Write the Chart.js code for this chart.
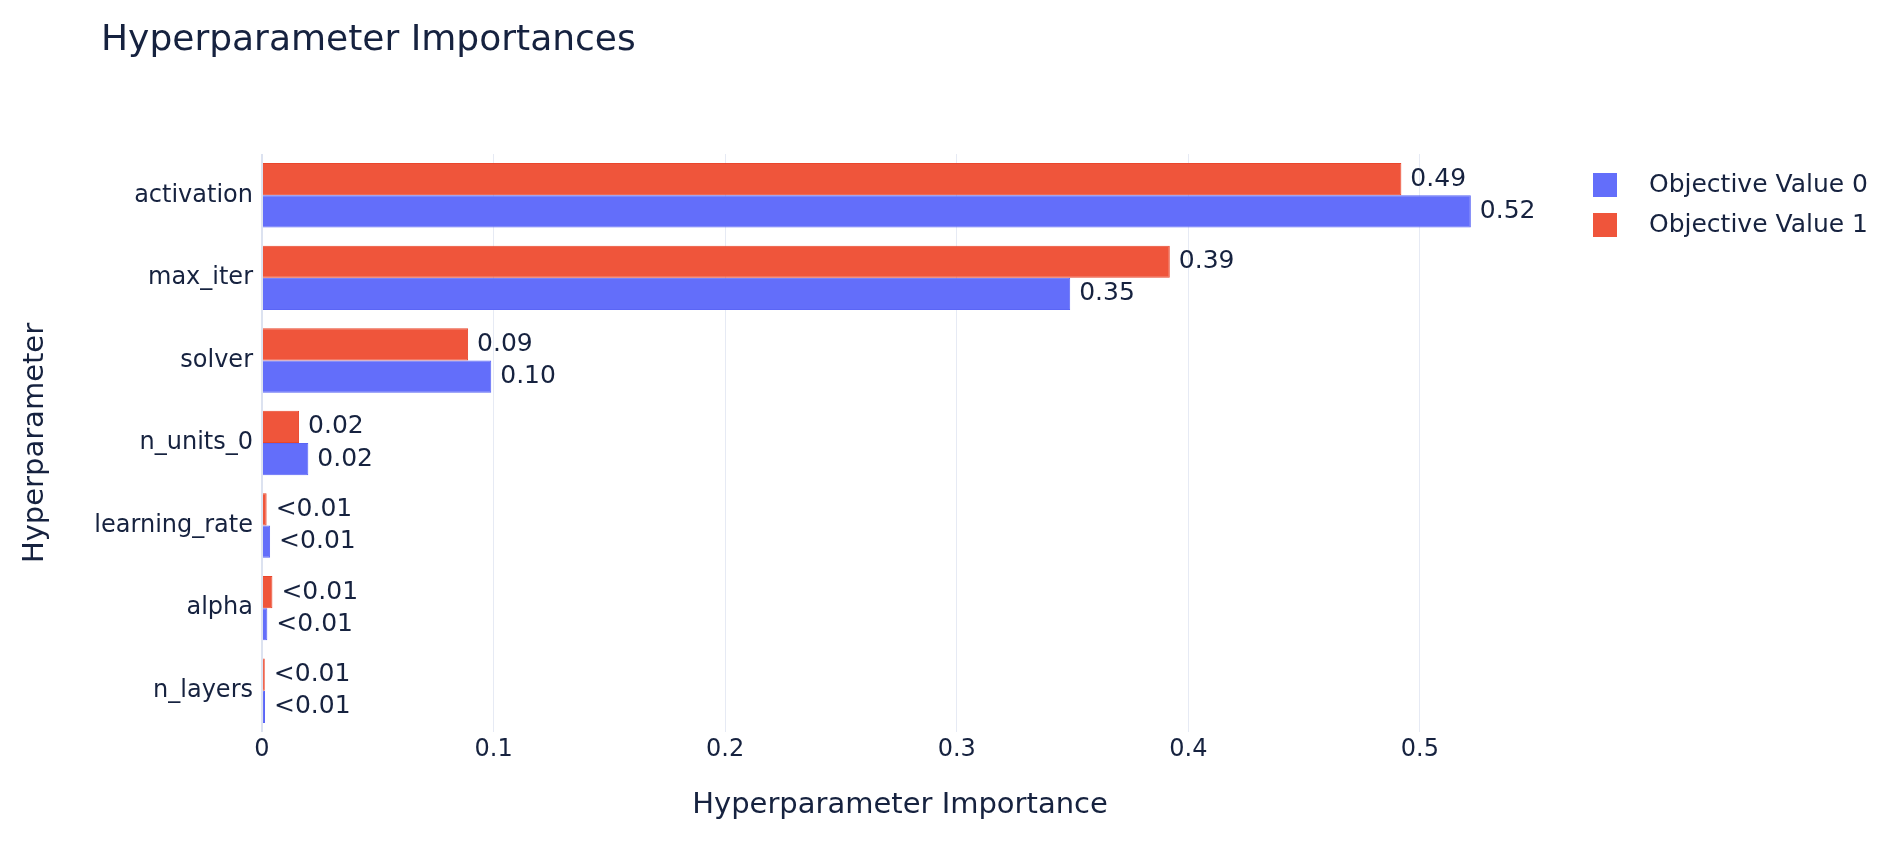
<!DOCTYPE html>
<html>
<head>
<meta charset="utf-8">
<title>Hyperparameter Importances</title>
<script src="https://cdn.jsdelivr.net/npm/chart.js@4"></script>
<style>
  body { margin: 0; background: #fff; }
  canvas { display: block; }
</style>
</head>
<body>
<canvas id="myChart" width="1892" height="843"></canvas>
<script>
// hyperparameters, top to bottom
var hyperparams = ['activation', 'max_iter', 'solver', 'n_units_0', 'learning_rate', 'alpha', 'n_layers'];
var objective0 = [0.522, 0.349, 0.099, 0.020, 0.0035, 0.0023, 0.0013];
var objective1 = [0.492, 0.392, 0.089, 0.016, 0.002, 0.0045, 0.0012];
var xTicks = [0, 0.1, 0.2, 0.3, 0.4, 0.5];

var textColor = '#16223f';
var font = 'DejaVu Sans';

function fmt(v) {
    return v < 0.01 ? '<0.01' : v.toFixed(2);
}

// title, legend and the value labels next to each bar
var extras = {
    id: 'extras',
    afterDatasetsDraw: function (chart) {
        var ctx = chart.ctx;
        ctx.save();
        ctx.font = '25px "' + font + '"';
        ctx.fillStyle = textColor;
        ctx.textAlign = 'left';
        ctx.textBaseline = 'middle';
        chart.data.datasets.forEach(function (ds, i) {
            chart.getDatasetMeta(i).data.forEach(function (bar, j) {
                ctx.fillText(fmt(ds.data[j]), bar.x + 9, bar.y);
            });
        });
        ctx.restore();
    },
    afterDraw: function (chart) {
        var ctx = chart.ctx;
        ctx.save();
        ctx.fillStyle = textColor;
        ctx.font = '36px "' + font + '"';
        ctx.textBaseline = 'alphabetic';
        ctx.fillText('Hyperparameter Importances', 101, 50);

        // legend: Objective Value 0 first
        var items = chart.data.datasets.slice().reverse();
        ctx.font = '25px "' + font + '"';
        ctx.textBaseline = 'middle';
        items.forEach(function (ds, k) {
            var y = 173 + k * 40;
            ctx.fillStyle = ds.backgroundColor;
            ctx.fillRect(1593, y, 24, 24);
            ctx.fillStyle = textColor;
            ctx.fillText(ds.label, 1649, y + 12);
        });
        ctx.restore();
    }
};

var ctx = document.getElementById('myChart').getContext('2d');
var chart = new Chart(ctx, {
    type: 'bar',
    data: {
        labels: hyperparams,
        datasets: [{
            label: 'Objective Value 1',
            data: objective1,
            backgroundColor: '#EF553B',
            borderColor: '#E9462C',
            borderWidth: 1
        }, {
            label: 'Objective Value 0',
            data: objective0,
            backgroundColor: '#636EFA',
            borderColor: '#5A65F5',
            borderWidth: 1
        }]
    },
    options: {
        responsive: false,
        animation: false,
        indexAxis: 'y',
        categoryPercentage: 0.78,
        barPercentage: 1.0,
        layout: { padding: { top: 154, left: 0, right: 354, bottom: 20 } },
        plugins: {
            legend: { display: false },
            title: { display: false },
            tooltip: { enabled: false }
        },
        scales: {
            x: {
                min: 0,
                max: 0.551,
                afterBuildTicks: function (s) {
                    s.ticks = xTicks.map(function (v) { return { value: v }; });
                },
                afterFit: function (s) { s.height = 91; },
                border: { display: false },
                grid: {
                    drawTicks: false,
                    color: function (c) { return c.tick && c.tick.value === 0 ? '#DCE2F0' : '#E6EAF4'; },
                    lineWidth: function (c) { return c.tick && c.tick.value === 0 ? 2 : 1; }
                },
                ticks: {
                    padding: 3,
                    color: textColor,
                    font: { family: font, size: 24 },
                    callback: function (v) { return String(v); }
                },
                title: {
                    display: true,
                    text: 'Hyperparameter Importance',
                    color: textColor,
                    font: { family: font, size: 29 },
                    padding: { top: 0, bottom: 0 }
                }
            },
            y: {
                afterFit: function (s) { s.width = 262; },
                border: { display: false },
                grid: { display: false },
                ticks: {
                    padding: 1,
                    color: textColor,
                    font: { family: font, size: 24 }
                },
                title: {
                    display: true,
                    text: 'Hyperparameter',
                    color: textColor,
                    font: { family: font, size: 29 },
                    padding: { top: 18, bottom: 0 }
                }
            }
        }
    },
    plugins: [extras]
});
</script>
</body>
</html>
